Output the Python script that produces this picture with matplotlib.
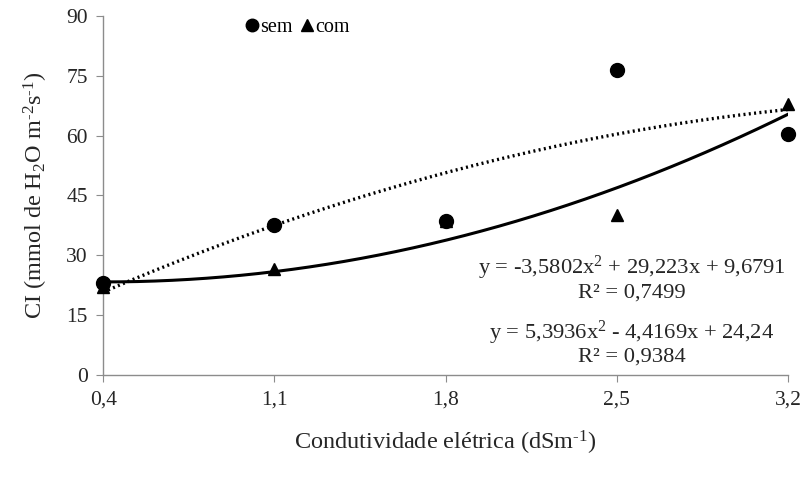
import numpy as np
import matplotlib
matplotlib.use("Agg")
import matplotlib.pyplot as plt

plt.rcParams['font.family'] = ['Liberation Serif', 'DejaVu Serif']
plt.rcParams['mathtext.fontset'] = 'custom'
plt.rcParams['mathtext.rm'] = 'Liberation Serif'
plt.rcParams['mathtext.it'] = 'Liberation Serif'
plt.rcParams['axes.unicode_minus'] = False

x_vals = [0.4, 1.1, 1.8, 2.5, 3.2]
x_labels = ['0,4', '1,1', '1,8', '2,5', '3,2']
sem = [23.0, 37.7, 38.5, 76.5, 60.5]
com = [22.0, 26.5, 38.5, 40.0, 68.0]
sem_coef = [-3.5802, 29.223, 9.6791]
com_coef = [5.3936, -4.4169, 24.24]
y_ticks = [0, 15, 30, 45, 60, 75, 90]

fig = plt.figure(figsize=(8, 4.79), dpi=100)
ax = fig.add_axes([0.129, 0.217, 0.856, 0.75])

xx = np.linspace(x_vals[0], x_vals[-1], 200)
ax.plot(xx, np.polyval(sem_coef, xx), color='black', lw=2.4, linestyle=(0, (0.6, 1.0)), zorder=2)
ax.plot(xx, np.polyval(com_coef, xx), color='black', lw=2.2, linestyle='-', zorder=2)

ax.plot(x_vals, com, linestyle='none', marker='^', color='black', markersize=9, zorder=3,
        label='com', clip_on=False)
ax.plot(x_vals, sem, linestyle='none', marker='o', color='black', markersize=10, zorder=4,
        label='sem', clip_on=False)

ax.set_xlim(0.4, 3.2)
ax.set_ylim(0, 90)
ax.set_xticks(x_vals)
ax.set_xticklabels(x_labels)
ax.set_yticks(y_ticks)
ax.set_yticklabels([str(v) for v in y_ticks])
for s in ['top', 'right']:
    ax.spines[s].set_visible(False)
for s in ['left', 'bottom']:
    ax.spines[s].set_color('#8c8c8c')
    ax.spines[s].set_linewidth(1.0)
ax.tick_params(axis='both', direction='out', colors='#8c8c8c', labelcolor='#262626',
               labelsize=15.5, length=5)
ax.tick_params(axis='x', pad=6)
ax.tick_params(axis='y', pad=6)

ax.set_ylabel('CI (mmol de H$_2$O m$^{\\mathrm{\u2010}2}$s$^{\\mathrm{\u2010}1}$)', fontsize=17.5,
              color='#262626', labelpad=12)
ax.set_xlabel('Condutividade elétrica (dSm$^{\\mathrm{\u2010}1}$)', fontsize=17.5, color='#262626',
              labelpad=14)

h, l = ax.get_legend_handles_labels()
leg = ax.legend([h[1], h[0]], [l[1], l[0]], loc='upper center', bbox_to_anchor=(0.285, 1.045),
                ncol=2, frameon=False, fontsize=14.5, handlelength=0.5, handletextpad=0.15,
                columnspacing=0.5, markerscale=0.9)

ax.text(0.772, 0.269, 'y = -3,5802x$^2$ + 29,223x + 9,6791\nR² = 0,7499', transform=ax.transAxes,
        ha='center', va='center', fontsize=16.2, color='#262626', linespacing=1.1)
ax.text(0.772, 0.0905, 'y = 5,3936x$^2$ - 4,4169x + 24,24\nR² = 0,9384', transform=ax.transAxes,
        ha='center', va='center', fontsize=16.2, color='#262626', linespacing=1.0)

fig.savefig('out.png', dpi=100)
